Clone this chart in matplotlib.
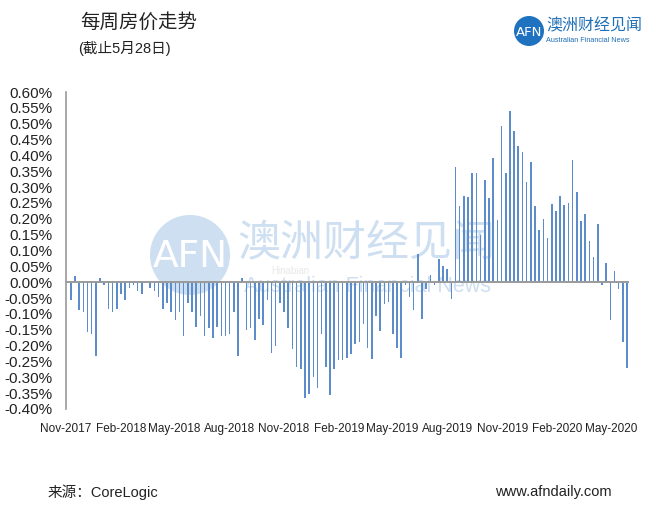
import matplotlib
matplotlib.use('Agg')
import matplotlib.pyplot as plt
import matplotlib.dates as mdates
from matplotlib.patches import Circle
from matplotlib.ticker import FuncFormatter, MultipleLocator
import pandas as pd

plt.rcParams['font.family'] = ['Liberation Sans', 'Noto Sans CJK SC', 'DejaVu Sans']

# weekly change (%), week ending Thursday, last one 28 May 2020
weekly_change = [
    -0.057, 0.019, -0.088, -0.095, -0.157, -0.164, -0.234, 0.012, -0.010, -0.086,
    -0.095, -0.086, -0.036, -0.057, -0.017, -0.008, -0.027, -0.036, 0.000, -0.019,
    -0.027, -0.048, -0.086, -0.065, -0.094, -0.118, -0.094, -0.170, -0.065, -0.094,
    -0.141, -0.107, -0.170, -0.146, -0.176, -0.141, -0.171, -0.171, -0.162, -0.094,
    -0.234, 0.013, -0.152, -0.143, -0.181, -0.115, -0.136, -0.055, -0.223, -0.202,
    -0.067, -0.094, -0.146, -0.210, -0.268, -0.275, -0.364, -0.352, -0.299, -0.334,
    -0.162, -0.268, -0.355, -0.275, -0.245, -0.245, -0.240, -0.228, -0.195, -0.189,
    -0.131, -0.207, -0.242, -0.108, -0.155, -0.070, -0.061, -0.163, -0.207, -0.239,
    -0.010, -0.046, -0.087, 0.090, -0.115, -0.020, 0.022, -0.010, 0.072, 0.052,
    0.043, -0.054, 0.362, 0.240, 0.272, 0.269, 0.345, 0.345, 0.148, 0.322,
    0.265, 0.392, 0.196, 0.494, 0.345, 0.541, 0.477, 0.430, 0.411, 0.317,
    0.378, 0.240, 0.164, 0.198, 0.138, 0.248, 0.225, 0.272, 0.243, 0.250,
    0.385, 0.283, 0.193, 0.215, 0.130, 0.080, 0.185, -0.010, 0.059, -0.118,
    0.036, -0.020, -0.188, -0.270,
]
weeks = pd.date_range(end='2020-05-28', periods=len(weekly_change), freq='7D')
tick_months = pd.date_range('2017-11-01', '2020-05-01', freq='3MS')

title = '每周房价走势'
subtitle = '(截止5月28日)'
source = '来源：CoreLogic'
site = 'www.afndaily.com'

fig = plt.figure(figsize=(6.5, 5.21), dpi=100)

# background layer in pixel coordinates for watermark / logo
bg = fig.add_axes([0, 0, 1, 1], zorder=0)
bg.set_xlim(0, 650)
bg.set_ylim(521, 0)
bg.axis('off')

wm = '#cddff1'
bg.add_patch(Circle((190, 255), 40, color=wm, lw=0))
bg.text(190, 257, 'AFN', color='white', fontsize=27, ha='center', va='center',
        family='DejaVu Sans')
bg.text(366, 243, '澳洲财经见闻', color=wm, fontsize=31, ha='center', va='center',
        family=['Noto Sans CJK SC'])
bg.text(368, 287, 'Australian Financial News', color=wm, fontsize=15.5,
        ha='center', va='center')
bg.text(290, 271, 'Hinabian', color='#e8e8e8', fontsize=7, ha='center', va='center')

# logo top right
bg.add_patch(Circle((529, 31), 15, color='#1f72bf', lw=0))
bg.text(529, 32, 'AFN', color='white', fontsize=9.5, ha='center', va='center',
        family='DejaVu Sans')
bg.text(546, 26, '澳洲财经见闻', color='#1f6fb6', fontsize=11.5, ha='left', va='center',
        family=['Noto Sans CJK SC'])
bg.text(546, 40, 'Australian Financial News', color='#1f6fb6', fontsize=5.2,
        ha='left', va='center')

# titles and footer
bg.text(80, 22, title, fontsize=14, ha='left', va='center', color='#222222',
        family=['Noto Sans CJK SC'])
bg.text(78, 48, subtitle, fontsize=10.5, ha='left', va='center', color='#222222',
        family=['Liberation Sans', 'Noto Sans CJK SC'])
bg.text(48, 492, source, fontsize=10.5, ha='left', va='center', color='#222222',
        family=['Liberation Sans', 'Noto Sans CJK SC'])
bg.text(612, 492, site, fontsize=10.5, ha='right', va='center', color='#222222')

# main chart
ax = fig.add_axes([66 / 650, 1 - 409 / 521, (628.5 - 66) / 650, (409 - 92) / 521], zorder=1)
ax.set_facecolor('none')
ax.bar(weeks, weekly_change, width=2.6, color='#5d8cca', linewidth=0, zorder=2)
ax.axhline(0, color='#9a9a9a', lw=1.4, zorder=3)

ax.set_ylim(-0.40, 0.60)
ax.set_xlim(weeks[0] - pd.Timedelta(days=7), weeks[-1] + pd.Timedelta(days=2.5))
ax.yaxis.set_major_locator(MultipleLocator(0.05))
ax.yaxis.set_major_formatter(FuncFormatter(lambda v, p: f'{v:.2f}%'))
ax.set_xticks(tick_months)
ax.xaxis.set_major_formatter(mdates.DateFormatter('%b-%Y'))

for s in ['top', 'right', 'bottom']:
    ax.spines[s].set_visible(False)
ax.spines['left'].set_color('#9a9a9a')
ax.spines['left'].set_linewidth(1.2)
ax.tick_params(axis='y', length=0, pad=10, labelsize=11, labelcolor='#222222')
ax.tick_params(axis='x', length=0, pad=10, labelsize=8.5, labelcolor='#222222')

fig.savefig('out.png', dpi=100)
